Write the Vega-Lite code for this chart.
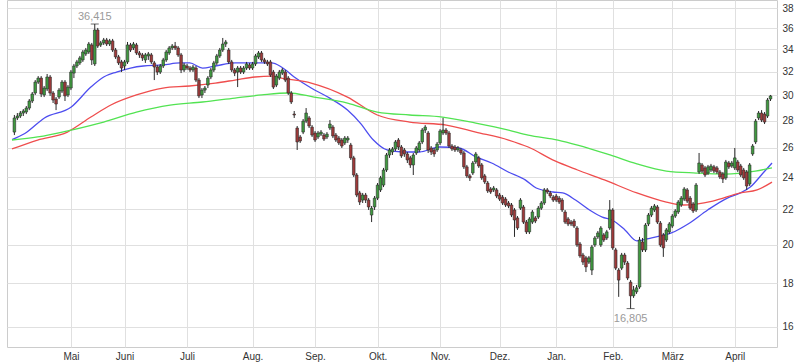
{
"$schema": "https://vega.github.io/schema/vega-lite/v6.json",
"width": 770, "height": 347,
"autosize": {"type": "none"},
"padding": {"left": 7, "top": 0, "right": 24, "bottom": 17},
"background": "white",
"config": {"view": {"stroke": "#cccccc"}, "axis": {"labelFont": "Liberation Sans", "labelFontSize": 10, "labelColor": "#333333", "gridColor": "#e0e0e0", "ticks": false, "domain": false}},
"datasets": {
"k": [
{"i":1,"o":27.15,"h":28.44,"l":26.93,"c":28.21},{"i":2,"o":28.21,"h":28.59,"l":28.05,"c":28.36},{"i":3,"o":28.36,"h":28.75,"l":28.21,"c":28.59},{"i":4,"o":28.59,"h":28.9,"l":28.36,"c":28.75},{"i":5,"o":28.67,"h":29.14,"l":28.51,"c":28.98},
{"i":6,"o":28.98,"h":29.7,"l":28.82,"c":29.54},{"i":7,"o":29.54,"h":30.27,"l":29.38,"c":30.11},{"i":8,"o":30.19,"h":31.27,"l":30.03,"c":31.1},{"i":9,"o":31.1,"h":31.61,"l":30.94,"c":31.44},{"i":10,"o":31.44,"h":31.61,"l":29.86,"c":30.11},
{"i":11,"o":30.03,"h":30.77,"l":29.86,"c":30.6},{"i":12,"o":30.52,"h":31.79,"l":30.35,"c":31.53},{"i":13,"o":31.53,"h":31.7,"l":29.95,"c":30.19},{"i":14,"o":30.19,"h":30.35,"l":29.38,"c":29.62},{"i":15,"o":29.7,"h":29.86,"l":28.82,"c":29.3},
{"i":16,"o":29.86,"h":30.6,"l":29.7,"c":30.43},{"i":17,"o":30.35,"h":31.27,"l":30.19,"c":31.1},{"i":18,"o":31.1,"h":31.27,"l":29.54,"c":29.95},{"i":19,"o":30.03,"h":30.85,"l":29.86,"c":30.68},{"i":20,"o":30.6,"h":32.14,"l":30.43,"c":31.96},
{"i":21,"o":31.87,"h":32.67,"l":31.44,"c":32.49},{"i":22,"o":32.49,"h":33.03,"l":32.31,"c":32.85},{"i":23,"o":32.76,"h":33.39,"l":32.58,"c":33.21},{"i":24,"o":33.03,"h":33.93,"l":32.85,"c":33.75},{"i":25,"o":33.57,"h":34.12,"l":33.39,"c":33.93},
{"i":26,"o":33.75,"h":34.68,"l":33.57,"c":34.49},{"i":27,"o":34.4,"h":34.59,"l":32.58,"c":33.03},{"i":28,"o":32.67,"h":36.415,"l":32.49,"c":35.83},{"i":29,"o":35.83,"h":36.03,"l":34.12,"c":34.3},{"i":30,"o":34.4,"h":34.78,"l":34.21,"c":34.59},
{"i":31,"o":34.59,"h":35.06,"l":34.4,"c":34.87},{"i":32,"o":34.87,"h":35.06,"l":34.3,"c":34.49},{"i":33,"o":34.49,"h":34.97,"l":34.3,"c":34.78},{"i":34,"o":34.78,"h":34.97,"l":33.75,"c":33.93},{"i":35,"o":33.93,"h":34.12,"l":33.12,"c":33.3},
{"i":36,"o":33.3,"h":33.48,"l":32.58,"c":32.76},{"i":37,"o":32.85,"h":33.03,"l":31.96,"c":32.31},{"i":38,"o":32.49,"h":33.03,"l":32.14,"c":32.85},{"i":39,"o":32.85,"h":34.68,"l":32.67,"c":34.4},{"i":40,"o":34.4,"h":34.59,"l":33.75,"c":33.93},
{"i":41,"o":34.12,"h":34.68,"l":33.93,"c":34.49},{"i":42,"o":34.4,"h":34.59,"l":33.48,"c":33.66},{"i":43,"o":33.66,"h":33.84,"l":33.21,"c":33.48},{"i":44,"o":33.48,"h":33.66,"l":32.94,"c":33.21},{"i":45,"o":33.03,"h":33.66,"l":32.76,"c":33.48},
{"i":46,"o":33.39,"h":33.75,"l":33.03,"c":33.57},{"i":47,"o":33.48,"h":33.66,"l":32.67,"c":32.85},{"i":48,"o":32.76,"h":32.94,"l":31.27,"c":32.4},{"i":49,"o":32.4,"h":32.58,"l":31.7,"c":31.96},{"i":50,"o":31.96,"h":32.67,"l":31.79,"c":32.49},
{"i":51,"o":32.49,"h":33.21,"l":32.31,"c":33.03},{"i":52,"o":33.03,"h":33.93,"l":32.85,"c":33.75},{"i":53,"o":33.66,"h":34.3,"l":33.48,"c":34.12},{"i":54,"o":34.12,"h":34.49,"l":33.93,"c":34.3},{"i":55,"o":34.3,"h":34.68,"l":33.93,"c":34.12},
{"i":56,"o":34.12,"h":34.3,"l":33.3,"c":33.48},{"i":57,"o":33.48,"h":33.66,"l":31.87,"c":32.14},{"i":58,"o":32.14,"h":32.76,"l":31.96,"c":32.58},{"i":59,"o":32.49,"h":32.67,"l":32.14,"c":32.31},{"i":60,"o":32.31,"h":32.49,"l":31.96,"c":32.14},
{"i":61,"o":32.14,"h":32.58,"l":31.96,"c":32.4},{"i":62,"o":32.31,"h":32.49,"l":31.1,"c":31.27},{"i":63,"o":31.27,"h":31.44,"l":29.78,"c":29.95},{"i":64,"o":30.03,"h":30.6,"l":29.78,"c":30.43},{"i":65,"o":30.43,"h":30.77,"l":30.19,"c":30.6},
{"i":66,"o":30.85,"h":31.61,"l":30.6,"c":31.44},{"i":67,"o":31.53,"h":32.31,"l":31.35,"c":32.14},{"i":68,"o":32.14,"h":32.94,"l":31.96,"c":32.76},{"i":69,"o":32.76,"h":33.57,"l":32.58,"c":33.39},{"i":70,"o":33.39,"h":34.12,"l":33.21,"c":33.93},
{"i":71,"o":33.93,"h":35.06,"l":33.75,"c":34.49},{"i":72,"o":34.49,"h":34.87,"l":34.21,"c":34.68},{"i":73,"o":33.93,"h":34.12,"l":32.67,"c":32.85},{"i":74,"o":32.85,"h":33.03,"l":31.96,"c":32.14},{"i":75,"o":32.14,"h":32.31,"l":31.61,"c":31.87},
{"i":76,"o":31.96,"h":32.49,"l":30.68,"c":32.31},{"i":77,"o":32.31,"h":32.49,"l":31.79,"c":31.96},{"i":78,"o":31.96,"h":32.49,"l":31.79,"c":32.31},{"i":79,"o":32.31,"h":32.85,"l":32.14,"c":32.67},{"i":80,"o":32.58,"h":32.76,"l":32.14,"c":32.31},
{"i":81,"o":32.31,"h":32.85,"l":32.14,"c":32.67},{"i":82,"o":32.67,"h":33.57,"l":32.49,"c":33.39},{"i":83,"o":33.3,"h":33.84,"l":33.12,"c":33.66},{"i":84,"o":33.66,"h":33.84,"l":32.85,"c":33.03},{"i":85,"o":33.03,"h":33.21,"l":32.67,"c":32.85},
{"i":86,"o":32.85,"h":33.03,"l":32.49,"c":32.67},{"i":87,"o":32.85,"h":33.03,"l":31.53,"c":31.7},{"i":88,"o":31.96,"h":32.14,"l":30.52,"c":30.68},{"i":89,"o":30.85,"h":31.79,"l":30.68,"c":31.61},{"i":90,"o":31.44,"h":32.14,"l":31.27,"c":31.96},
{"i":91,"o":31.87,"h":32.31,"l":31.7,"c":32.14},{"i":92,"o":31.96,"h":32.14,"l":31.1,"c":31.27},{"i":93,"o":31.44,"h":31.61,"l":30.03,"c":30.19},{"i":94,"o":30.19,"h":30.35,"l":29.3,"c":29.46},{"i":95,"o":28.51,"h":28.75,"l":28.21,"c":28.44},
{"i":96,"o":27.45,"h":27.6,"l":25.86,"c":26.43},{"i":97,"o":26.79,"h":26.93,"l":26.36,"c":26.5},{"i":98,"o":27.15,"h":28.13,"l":27.0,"c":27.97},{"i":99,"o":27.97,"h":28.98,"l":27.82,"c":28.59},{"i":100,"o":28.21,"h":28.36,"l":27.45,"c":27.6},
{"i":101,"o":27.52,"h":27.67,"l":26.79,"c":26.93},{"i":102,"o":27.08,"h":27.23,"l":26.43,"c":26.57},{"i":103,"o":26.79,"h":27.23,"l":26.64,"c":27.08},{"i":104,"o":27.0,"h":27.3,"l":26.86,"c":27.15},{"i":105,"o":26.93,"h":27.08,"l":26.5,"c":26.64},
{"i":106,"o":26.79,"h":27.15,"l":26.64,"c":27.0},{"i":107,"o":27.45,"h":28.05,"l":27.3,"c":27.75},{"i":108,"o":27.52,"h":27.67,"l":26.71,"c":26.86},{"i":109,"o":26.93,"h":27.08,"l":26.43,"c":26.57},{"i":110,"o":26.71,"h":26.86,"l":26.21,"c":26.36},
{"i":111,"o":26.57,"h":26.71,"l":26.0,"c":26.14},{"i":112,"o":26.36,"h":26.86,"l":26.21,"c":26.71},{"i":113,"o":26.57,"h":26.86,"l":26.36,"c":26.71},{"i":114,"o":26.21,"h":26.36,"l":25.17,"c":25.31},{"i":115,"o":25.31,"h":25.45,"l":24.03,"c":24.16},
{"i":116,"o":24.16,"h":24.29,"l":22.75,"c":22.88},{"i":117,"o":23.01,"h":23.14,"l":22.27,"c":22.45},{"i":118,"o":22.57,"h":23.01,"l":22.39,"c":22.88},{"i":119,"o":22.88,"h":23.01,"l":22.39,"c":22.57},{"i":120,"o":22.57,"h":22.69,"l":21.97,"c":22.15},
{"i":121,"o":21.67,"h":22.21,"l":21.26,"c":22.08},{"i":122,"o":22.15,"h":22.82,"l":21.97,"c":22.69},{"i":123,"o":22.69,"h":23.64,"l":22.57,"c":23.51},{"i":124,"o":23.2,"h":24.1,"l":23.07,"c":23.97},{"i":125,"o":23.51,"h":24.63,"l":23.38,"c":24.49},
{"i":126,"o":24.49,"h":25.65,"l":24.36,"c":25.51},{"i":127,"o":25.51,"h":26.0,"l":25.31,"c":25.86},{"i":128,"o":25.72,"h":26.07,"l":25.51,"c":25.93},{"i":129,"o":25.93,"h":26.57,"l":25.79,"c":26.43},{"i":130,"o":26.57,"h":26.71,"l":25.86,"c":26.07},
{"i":131,"o":26.07,"h":26.21,"l":25.31,"c":25.45},{"i":132,"o":25.86,"h":26.0,"l":25.38,"c":25.58},{"i":133,"o":25.58,"h":25.72,"l":24.96,"c":25.17},{"i":134,"o":25.31,"h":25.45,"l":24.63,"c":24.83},{"i":135,"o":24.83,"h":25.65,"l":24.16,"c":25.51},
{"i":136,"o":25.65,"h":26.14,"l":25.51,"c":26.0},{"i":137,"o":25.86,"h":26.5,"l":25.72,"c":26.36},{"i":138,"o":26.43,"h":27.45,"l":26.28,"c":27.3},{"i":139,"o":27.3,"h":27.67,"l":27.08,"c":27.52},{"i":140,"o":27.08,"h":27.23,"l":25.65,"c":25.86},
{"i":141,"o":26.0,"h":26.14,"l":25.51,"c":25.72},{"i":142,"o":25.86,"h":26.0,"l":25.38,"c":25.58},{"i":143,"o":25.86,"h":26.43,"l":25.72,"c":26.28},{"i":144,"o":26.36,"h":27.37,"l":26.21,"c":27.23},{"i":145,"o":27.08,"h":28.21,"l":26.93,"c":27.3},
{"i":146,"o":27.3,"h":27.45,"l":26.93,"c":27.08},{"i":147,"o":27.08,"h":27.23,"l":26.0,"c":26.14},{"i":148,"o":26.14,"h":26.28,"l":25.79,"c":25.93},{"i":149,"o":26.07,"h":26.21,"l":25.72,"c":25.86},{"i":150,"o":25.86,"h":26.14,"l":25.72,"c":26.0},
{"i":151,"o":25.86,"h":26.0,"l":25.51,"c":25.65},{"i":152,"o":25.65,"h":25.79,"l":24.56,"c":24.7},{"i":153,"o":24.7,"h":24.83,"l":23.97,"c":24.1},{"i":154,"o":24.1,"h":24.23,"l":23.77,"c":23.97},{"i":155,"o":24.29,"h":25.1,"l":24.16,"c":24.96},
{"i":156,"o":25.03,"h":25.72,"l":24.9,"c":25.58},{"i":157,"o":25.31,"h":25.45,"l":24.63,"c":24.76},{"i":158,"o":24.83,"h":24.96,"l":23.84,"c":23.97},{"i":159,"o":24.1,"h":24.23,"l":23.58,"c":23.71},{"i":160,"o":23.64,"h":23.77,"l":23.01,"c":23.14},
{"i":161,"o":23.26,"h":23.38,"l":22.95,"c":23.07},{"i":162,"o":23.2,"h":23.45,"l":23.07,"c":23.32},{"i":163,"o":23.2,"h":23.32,"l":22.69,"c":22.82},{"i":164,"o":22.88,"h":23.01,"l":22.51,"c":22.63},{"i":165,"o":22.75,"h":22.88,"l":22.27,"c":22.39},
{"i":166,"o":22.63,"h":22.75,"l":22.15,"c":22.27},{"i":167,"o":22.39,"h":22.51,"l":22.08,"c":22.21},{"i":168,"o":22.27,"h":22.39,"l":21.55,"c":21.67},{"i":169,"o":21.97,"h":22.08,"l":20.42,"c":21.38},{"i":170,"o":21.5,"h":21.61,"l":20.81,"c":20.92},
{"i":171,"o":22.08,"h":22.69,"l":21.97,"c":22.57},{"i":172,"o":22.15,"h":22.27,"l":21.15,"c":21.26},{"i":173,"o":21.26,"h":21.38,"l":20.58,"c":20.7},{"i":174,"o":20.7,"h":21.55,"l":20.58,"c":21.44},{"i":175,"o":21.26,"h":21.97,"l":21.15,"c":21.85},
{"i":176,"o":21.5,"h":21.61,"l":21.2,"c":21.32},{"i":177,"o":21.55,"h":22.21,"l":21.44,"c":22.08},{"i":178,"o":22.08,"h":22.51,"l":21.97,"c":22.39},{"i":179,"o":22.39,"h":23.32,"l":22.27,"c":23.2},{"i":180,"o":23.2,"h":23.32,"l":22.95,"c":23.07},
{"i":181,"o":23.01,"h":23.14,"l":22.69,"c":22.82},{"i":182,"o":22.75,"h":22.88,"l":22.45,"c":22.57},{"i":183,"o":22.82,"h":22.95,"l":22.45,"c":22.57},{"i":184,"o":22.69,"h":22.82,"l":22.33,"c":22.45},{"i":185,"o":22.57,"h":22.69,"l":21.85,"c":21.97},
{"i":186,"o":21.85,"h":21.97,"l":21.15,"c":21.26},{"i":187,"o":21.44,"h":21.55,"l":21.03,"c":21.15},{"i":188,"o":21.26,"h":21.38,"l":21.03,"c":21.15},{"i":189,"o":21.32,"h":21.44,"l":20.92,"c":21.03},{"i":190,"o":20.92,"h":21.03,"l":19.87,"c":19.98},
{"i":191,"o":20.03,"h":20.14,"l":19.29,"c":19.39},{"i":192,"o":19.44,"h":19.55,"l":18.92,"c":19.07},{"i":193,"o":19.29,"h":19.39,"l":18.56,"c":18.82},{"i":194,"o":19.07,"h":19.39,"l":18.97,"c":19.29},{"i":195,"o":18.66,"h":19.98,"l":18.41,"c":19.87},
{"i":196,"o":19.98,"h":20.47,"l":19.87,"c":20.36},{"i":197,"o":20.42,"h":20.75,"l":20.31,"c":20.64},{"i":198,"o":19.98,"h":21.03,"l":19.87,"c":20.92},{"i":199,"o":20.53,"h":20.64,"l":20.14,"c":20.25},{"i":200,"o":20.36,"h":20.81,"l":20.25,"c":20.7},
{"i":201,"o":20.92,"h":22.57,"l":20.81,"c":21.97},{"i":202,"o":21.97,"h":22.08,"l":19.71,"c":19.82},{"i":203,"o":19.71,"h":19.82,"l":18.66,"c":18.76},{"i":204,"o":18.66,"h":18.76,"l":17.35,"c":18.16},{"i":205,"o":18.76,"h":19.55,"l":18.66,"c":19.44},
{"i":206,"o":19.44,"h":19.55,"l":18.92,"c":19.07},{"i":207,"o":19.02,"h":19.12,"l":18.16,"c":18.26},{"i":208,"o":18.06,"h":18.16,"l":16.805,"c":17.4},{"i":209,"o":17.4,"h":17.87,"l":17.3,"c":17.68},{"i":210,"o":17.59,"h":17.92,"l":17.49,"c":17.78},
{"i":211,"o":17.82,"h":20.42,"l":17.73,"c":20.25},{"i":212,"o":20.14,"h":20.36,"l":19.6,"c":19.71},{"i":213,"o":19.71,"h":21.2,"l":19.6,"c":21.09},{"i":214,"o":21.15,"h":21.79,"l":21.03,"c":21.67},{"i":215,"o":21.67,"h":22.21,"l":21.55,"c":22.08},
{"i":216,"o":21.97,"h":22.33,"l":21.85,"c":22.21},{"i":217,"o":22.15,"h":22.27,"l":21.15,"c":21.26},{"i":218,"o":21.2,"h":21.32,"l":19.87,"c":19.98},{"i":219,"o":20.53,"h":20.64,"l":19.34,"c":19.82},{"i":220,"o":20.25,"h":20.92,"l":20.14,"c":20.81},
{"i":221,"o":20.7,"h":21.26,"l":20.58,"c":21.15},{"i":222,"o":21.03,"h":21.73,"l":20.92,"c":21.61},{"i":223,"o":21.61,"h":22.02,"l":21.5,"c":21.91},{"i":224,"o":21.85,"h":22.57,"l":21.73,"c":22.45},{"i":225,"o":22.27,"h":22.82,"l":22.15,"c":22.69},
{"i":226,"o":22.63,"h":23.38,"l":22.51,"c":23.26},{"i":227,"o":23.2,"h":23.32,"l":22.39,"c":22.51},{"i":228,"o":22.69,"h":22.82,"l":21.97,"c":22.08},{"i":229,"o":22.33,"h":22.45,"l":21.79,"c":21.91},{"i":230,"o":21.97,"h":23.64,"l":21.85,"c":23.51},
{"i":231,"o":24.36,"h":25.65,"l":24.23,"c":24.96},{"i":232,"o":24.83,"h":24.96,"l":24.29,"c":24.42},{"i":233,"o":24.63,"h":24.76,"l":24.03,"c":24.16},{"i":234,"o":24.29,"h":24.83,"l":24.16,"c":24.7},{"i":235,"o":24.49,"h":24.9,"l":24.36,"c":24.76},
{"i":236,"o":24.7,"h":24.83,"l":24.29,"c":24.42},{"i":237,"o":24.63,"h":24.76,"l":24.23,"c":24.36},{"i":238,"o":24.36,"h":24.49,"l":23.9,"c":24.03},{"i":239,"o":24.23,"h":24.36,"l":23.64,"c":23.9},{"i":240,"o":23.97,"h":25.17,"l":23.84,"c":25.03},
{"i":241,"o":24.96,"h":25.1,"l":24.56,"c":24.7},{"i":242,"o":24.76,"h":25.1,"l":24.63,"c":24.96},{"i":243,"o":24.63,"h":26.0,"l":24.49,"c":25.31},{"i":244,"o":25.03,"h":25.17,"l":24.36,"c":24.49},{"i":245,"o":24.76,"h":24.9,"l":24.03,"c":24.16},
{"i":246,"o":24.49,"h":24.63,"l":23.84,"c":23.97},{"i":247,"o":24.36,"h":24.49,"l":23.2,"c":23.45},{"i":248,"o":23.58,"h":24.96,"l":23.45,"c":24.83},{"i":249,"o":25.58,"h":26.28,"l":25.45,"c":26.14},{"i":250,"o":26.43,"h":28.13,"l":26.28,"c":27.97},
{"i":251,"o":28.21,"h":28.75,"l":28.05,"c":28.59},{"i":252,"o":28.59,"h":28.82,"l":27.9,"c":28.05},{"i":253,"o":28.51,"h":28.67,"l":27.75,"c":27.9},{"i":254,"o":28.36,"h":29.78,"l":28.21,"c":29.62},{"i":255,"o":29.7,"h":30.03,"l":29.54,"c":29.95}
],
"ma": [
{"i":0.2,"s":"b","v":26.6},{"i":4.5,"s":"b","v":27.04},{"i":11.1,"s":"b","v":28.21},{"i":20.1,"s":"b","v":29.06},{"i":26.7,"s":"b","v":30.68},{"i":31,"s":"b","v":31.53},{"i":35.3,"s":"b","v":31.96},{"i":40,"s":"b","v":32.31},{"i":44.3,"s":"b","v":32.49},{"i":50.9,"s":"b","v":32.58},{"i":56.6,"s":"b","v":32.76},{"i":59.9,"s":"b","v":32.76},{"i":64.2,"s":"b","v":32.31},{"i":68.5,"s":"b","v":32.49},{"i":75.1,"s":"b","v":32.76},{"i":81.8,"s":"b","v":32.76},{"i":87.4,"s":"b","v":32.76},{"i":90.7,"s":"b","v":32.4},{"i":95,"s":"b","v":31.53},{"i":100.7,"s":"b","v":30.6},{"i":106.3,"s":"b","v":29.86},{"i":112.9,"s":"b","v":28.82},{"i":117.2,"s":"b","v":27.82},{"i":121.6,"s":"b","v":26.57},{"i":126.2,"s":"b","v":25.86},{"i":131.5,"s":"b","v":25.72},{"i":137.1,"s":"b","v":25.72},{"i":143.8,"s":"b","v":26.07},{"i":150.4,"s":"b","v":26.0},{"i":156,"s":"b","v":25.38},{"i":161.3,"s":"b","v":24.96},{"i":166.9,"s":"b","v":24.36},{"i":172.6,"s":"b","v":23.84},{"i":176.3,"s":"b","v":23.32},{"i":181.9,"s":"b","v":23.07},{"i":185.2,"s":"b","v":23.01},{"i":189.5,"s":"b","v":22.57},{"i":194.2,"s":"b","v":21.97},{"i":198.5,"s":"b","v":21.55},{"i":201.8,"s":"b","v":21.38},{"i":206.1,"s":"b","v":20.81},{"i":210.1,"s":"b","v":20.2},{"i":215.1,"s":"b","v":20.37},{"i":221.7,"s":"b","v":20.64},{"i":227.3,"s":"b","v":21.15},{"i":233.9,"s":"b","v":21.97},{"i":240.5,"s":"b","v":22.69},{"i":244.9,"s":"b","v":23.01},{"i":248.2,"s":"b","v":23.38},{"i":252.5,"s":"b","v":24.29},{"i":255.5,"s":"b","v":24.96},
{"i":0.2,"s":"r","v":25.93},{"i":8.8,"s":"r","v":26.57},{"i":18.8,"s":"r","v":27.15},{"i":26.7,"s":"r","v":28.28},{"i":33.4,"s":"r","v":29.22},{"i":42,"s":"r","v":30.03},{"i":50.9,"s":"r","v":30.6},{"i":59.9,"s":"r","v":30.77},{"i":68.5,"s":"r","v":31.02},{"i":75.1,"s":"r","v":31.27},{"i":81.8,"s":"r","v":31.53},{"i":87.4,"s":"r","v":31.61},{"i":90.7,"s":"r","v":31.44},{"i":100.7,"s":"r","v":31.02},{"i":112.9,"s":"r","v":29.86},{"i":122.9,"s":"r","v":28.44},{"i":133.8,"s":"r","v":27.9},{"i":146.1,"s":"r","v":27.67},{"i":156,"s":"r","v":27.15},{"i":167,"s":"r","v":26.57},{"i":173.6,"s":"r","v":26.07},{"i":182.6,"s":"r","v":25.1},{"i":190.2,"s":"r","v":24.49},{"i":199.2,"s":"r","v":23.84},{"i":210.1,"s":"r","v":23.01},{"i":220,"s":"r","v":22.45},{"i":225.7,"s":"r","v":22.27},{"i":235.6,"s":"r","v":22.51},{"i":244.9,"s":"r","v":23.01},{"i":250.5,"s":"r","v":23.2},{"i":255.5,"s":"r","v":23.7},
{"i":0.2,"s":"g","v":26.57},{"i":8.8,"s":"g","v":26.79},{"i":20.1,"s":"g","v":27.3},{"i":31,"s":"g","v":27.9},{"i":42,"s":"g","v":28.67},{"i":53.3,"s":"g","v":29.22},{"i":64.2,"s":"g","v":29.46},{"i":75.1,"s":"g","v":29.78},{"i":84.1,"s":"g","v":30.03},{"i":93,"s":"g","v":30.19},{"i":101.7,"s":"g","v":29.86},{"i":112.9,"s":"g","v":29.38},{"i":122.9,"s":"g","v":28.67},{"i":133.8,"s":"g","v":28.44},{"i":144.8,"s":"g","v":28.28},{"i":156,"s":"g","v":27.82},{"i":167,"s":"g","v":27.3},{"i":173.6,"s":"g","v":26.93},{"i":183.6,"s":"g","v":26.57},{"i":190.2,"s":"g","v":26.21},{"i":201.1,"s":"g","v":25.51},{"i":210.1,"s":"g","v":24.9},{"i":220,"s":"g","v":24.42},{"i":230,"s":"g","v":24.29},{"i":239.9,"s":"g","v":24.22},{"i":249.9,"s":"g","v":24.42},{"i":255.5,"s":"g","v":24.63}
],
"ext": [
{"i":28,"v":36.415,"t":"36,415","p":"max"},
{"i":208,"v":16.805,"t":"16,805","p":"min"}
]
},
"encoding": {
"x": {"field": "i", "type": "quantitative", "title": null,
 "scale": {"domain": [0.2, 255.5], "nice": false, "zero": false},
 "axis": {"values": [20, 38, 59, 81, 102, 123, 144, 164, 183, 202, 222, 243], "grid": true, "labelPadding": 4, "title": null, "labelFlush": false, "labelOverlap": false,
  "labelExpr": "datum.value==20?'Mai':datum.value==38?'Juni':datum.value==59?'Juli':datum.value==81?'Aug.':datum.value==102?'Sep.':datum.value==123?'Okt.':datum.value==144?'Nov.':datum.value==164?'Dez.':datum.value==183?'Jan.':datum.value==202?'Feb.':datum.value==222?'März':'April'"}}
},
"layer": [
{"data": {"name": "ma"},
 "mark": {"type": "line", "strokeWidth": 1.3, "interpolate": "monotone", "clip": true},
 "encoding": {
  "y": {"field": "v", "type": "quantitative", "title": null, "scale": {"type": "log", "domain": [15.14, 38.87], "nice": false, "zero": false}, "axis": {"orient": "right", "values": [16,18,20,22,24,26,28,30,32,34,36,38], "grid": true, "labelPadding": 5, "title": null}},
  "color": {"field": "s", "type": "nominal", "scale": {"domain": ["g", "r", "b"], "range": ["#52e352", "#ef4d4d", "#4d4def"]}, "legend": null}
 }},
{"data": {"name": "k"},
 "mark": {"type": "rule", "color": "#2a2a2a", "strokeWidth": 1},
 "encoding": {
  "y": {"field": "l", "type": "quantitative", "title": null, "scale": {"type": "log", "domain": [15.14, 38.87], "nice": false, "zero": false}, "axis": {"orient": "right", "values": [16,18,20,22,24,26,28,30,32,34,36,38], "grid": true, "labelPadding": 5, "title": null}},
  "y2": {"field": "h"}
 }},
{"data": {"name": "k"},
 "mark": {"type": "bar", "size": 2.6, "stroke": "#2a2a2a", "strokeWidth": 0.6},
 "encoding": {
  "y": {"field": "o", "type": "quantitative", "title": null, "scale": {"type": "log", "domain": [15.14, 38.87], "nice": false, "zero": false}, "axis": {"orient": "right", "values": [16,18,20,22,24,26,28,30,32,34,36,38], "grid": true, "labelPadding": 5, "title": null}},
  "y2": {"field": "c"},
  "color": {"condition": {"test": "datum.c >= datum.o", "value": "#3f9a3f"}, "value": "#a03a3a"}
 }},
{"data": {"name": "ext"},
 "mark": {"type": "tick", "orient": "horizontal", "size": 8, "thickness": 1, "color": "#2a2a2a"},
 "encoding": {
  "y": {"field": "v", "type": "quantitative", "title": null, "scale": {"type": "log", "domain": [15.14, 38.87], "nice": false, "zero": false}, "axis": {"orient": "right", "values": [16,18,20,22,24,26,28,30,32,34,36,38], "grid": true, "labelPadding": 5, "title": null}}
 }},
{"data": {"name": "ext"},
 "transform": [{"filter": "datum.p == 'max'"}],
 "mark": {"type": "text", "baseline": "bottom", "dy": -2, "font": "Liberation Sans", "fontSize": 11, "color": "#9a9a9a"},
 "encoding": {
  "y": {"field": "v", "type": "quantitative", "title": null, "scale": {"type": "log", "domain": [15.14, 38.87], "nice": false, "zero": false}, "axis": {"orient": "right", "values": [16,18,20,22,24,26,28,30,32,34,36,38], "grid": true, "labelPadding": 5, "title": null}},
  "text": {"field": "t"}
 }},
{"data": {"name": "ext"},
 "transform": [{"filter": "datum.p == 'min'"}],
 "mark": {"type": "text", "baseline": "top", "dy": 4, "font": "Liberation Sans", "fontSize": 11, "color": "#9a9a9a"},
 "encoding": {
  "y": {"field": "v", "type": "quantitative", "title": null, "scale": {"type": "log", "domain": [15.14, 38.87], "nice": false, "zero": false}, "axis": {"orient": "right", "values": [16,18,20,22,24,26,28,30,32,34,36,38], "grid": true, "labelPadding": 5, "title": null}},
  "text": {"field": "t"}
 }}
]
}
